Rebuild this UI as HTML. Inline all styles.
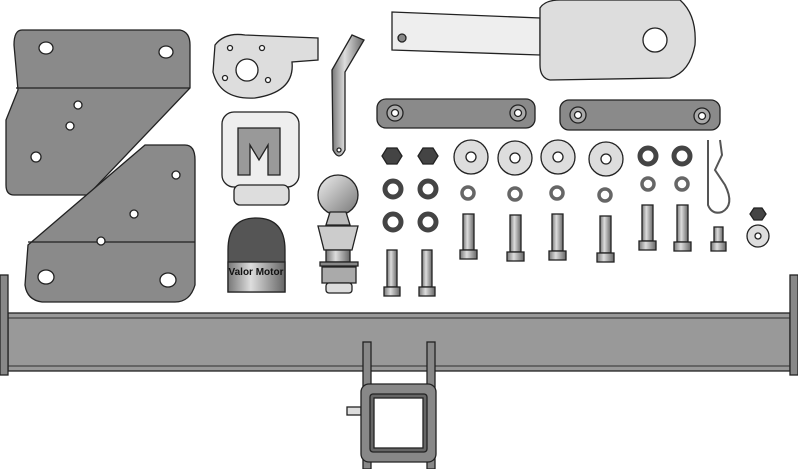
<!DOCTYPE html>
<html><head><style>html,body{margin:0;padding:0;background:#fff}svg{display:block}</style></head>
<body>
<svg width="798" height="469" viewBox="0 0 798 469" xmlns="http://www.w3.org/2000/svg" stroke="#222" stroke-width="1.3">
<defs>
<linearGradient id="cyl" x1="0" x2="1"><stop offset="0" stop-color="#777"/><stop offset="0.4" stop-color="#ddd"/><stop offset="1" stop-color="#666"/></linearGradient>
<linearGradient id="ball" x1="0" x2="1" y1="0" y2="1"><stop offset="0" stop-color="#eee"/><stop offset="1" stop-color="#777"/></linearGradient>
</defs>
<!-- upper bracket -->
<path d="M22,30 L180,30 Q190,32 190,45 L190,88 L88,195 L14,195 Q6,195 6,185 L6,120 L18,90 L14,45 Q14,30 22,30Z" fill="#8a8a8a"/>
<line x1="16" y1="88" x2="190" y2="88"/>
<g fill="#fff"><ellipse cx="46" cy="48" rx="7" ry="6"/><ellipse cx="166" cy="52" rx="7" ry="6"/><circle cx="78" cy="105" r="4"/><circle cx="70" cy="126" r="4"/><circle cx="36" cy="157" r="5"/></g>
<!-- lower bracket -->
<path d="M28,245 L145,145 L185,145 Q195,145 195,160 L195,285 Q190,302 175,302 L42,302 Q27,300 25,285 Z" fill="#8a8a8a"/>
<line x1="28" y1="242" x2="195" y2="242"/>
<g fill="#fff"><circle cx="176" cy="175" r="4"/><circle cx="134" cy="214" r="4"/><circle cx="101" cy="241" r="4"/><ellipse cx="46" cy="277" rx="8" ry="7"/><ellipse cx="168" cy="280" rx="8" ry="7"/></g>
<!-- small plate -->
<path d="M215,45 Q225,32 245,35 L318,38 L318,60 L292,62 Q295,92 255,98 Q220,100 213,72 Z" fill="#ddd"/>
<circle cx="247" cy="70" r="11" fill="#fff"/><g fill="#fff"><circle cx="230" cy="48" r="2.5"/><circle cx="262" cy="48" r="2.5"/><circle cx="225" cy="78" r="2.5"/><circle cx="268" cy="80" r="2.5"/></g>
<!-- pin -->
<path d="M332,70 L352,35 L364,40 L345,72 L345,150 Q339,162 333,150Z" fill="url(#cyl)"/><circle cx="339" cy="150" r="2" fill="#fff"/>
<!-- M plate -->
<rect x="222" y="112" width="77" height="75" rx="12" fill="#eee"/>
<path d="M238,128 L280,128 L280,175 L268,175 L268,145 L259,160 L250,145 L250,175 L238,175Z" fill="#999"/>
<rect x="234" y="185" width="55" height="20" rx="6" fill="#ddd"/>
<!-- cover -->
<path d="M228,250 Q228,218 256,218 Q285,218 285,250 L285,292 L228,292Z" fill="#555"/>
<rect x="228" y="262" width="57" height="30" fill="url(#cyl)"/>
<text x="256" y="275" font-family="Liberation Sans,sans-serif" font-weight="bold" font-size="10" text-anchor="middle" fill="#111" stroke="none">Valor Motor</text>
<!-- tow ball -->
<circle cx="338" cy="195" r="20" fill="url(#ball)"/>
<path d="M330,212 L346,212 L350,225 L326,225Z" fill="#bbb"/>
<path d="M318,226 L358,226 L352,250 L324,250Z" fill="#ccc"/>
<rect x="326" y="250" width="24" height="12" fill="url(#cyl)"/>
<rect x="320" y="262" width="38" height="4" fill="#888"/>
<rect x="322" y="267" width="34" height="16" fill="#aaa"/>
<rect x="326" y="283" width="26" height="10" rx="3" fill="#ddd"/>
<!-- top bar -->
<path d="M392,12 L540,18 L540,55 L392,50Z" fill="#eee"/>
<circle cx="402" cy="38" r="4" fill="#888"/>
<path d="M540,8 Q545,0 560,0 L680,0 Q697,15 695,45 Q690,72 670,78 L550,80 Q540,78 540,65Z" fill="#ddd"/>
<circle cx="655" cy="40" r="12" fill="#fff"/>
<!-- flat bars -->
<rect x="377" y="99" width="158" height="29" rx="9" fill="#8a8a8a"/>
<rect x="560" y="100" width="160" height="30" rx="9" fill="#8a8a8a"/>
<g fill="#aaa"><circle cx="395" cy="113" r="8"/><circle cx="518" cy="113" r="8"/><circle cx="578" cy="115" r="8"/><circle cx="702" cy="116" r="8"/></g>
<g fill="#fff"><circle cx="395" cy="113" r="3.5"/><circle cx="518" cy="113" r="3.5"/><circle cx="578" cy="115" r="3.5"/><circle cx="702" cy="116" r="3.5"/></g>
<!-- nuts -->
<g fill="#444"><polygon points="387,148 397,148 402,156 397,164 387,164 382,156"/><polygon points="423,148 433,148 438,156 433,164 423,164 418,156"/><polygon points="754,208 762,208 766,214 762,220 754,220 750,214"/></g>
<!-- big washers -->
<g fill="#ddd"><circle cx="471" cy="157" r="17"/><circle cx="515" cy="158" r="17"/><circle cx="558" cy="157" r="17"/><circle cx="606" cy="159" r="17"/><circle cx="758" cy="236" r="11"/></g>
<g fill="#fff"><circle cx="471" cy="157" r="5"/><circle cx="515" cy="158" r="5"/><circle cx="558" cy="157" r="5"/><circle cx="606" cy="159" r="5"/><circle cx="758" cy="236" r="3"/></g>
<!-- grey washers -->
<g fill="none" stroke="#444" stroke-width="5"><circle cx="393" cy="189" r="8"/><circle cx="428" cy="189" r="8"/><circle cx="393" cy="222" r="8"/><circle cx="428" cy="222" r="8"/><circle cx="648" cy="156" r="8"/><circle cx="682" cy="156" r="8"/></g>
<g fill="none" stroke="#666" stroke-width="3.5"><circle cx="468" cy="193" r="6"/><circle cx="515" cy="194" r="6"/><circle cx="557" cy="193" r="6"/><circle cx="605" cy="195" r="6"/><circle cx="648" cy="184" r="6"/><circle cx="682" cy="184" r="6"/></g>
<!-- bolts -->
<g fill="url(#cyl)">
<rect x="387" y="250" width="10" height="37"/><rect x="384" y="287" width="16" height="9"/>
<rect x="422" y="250" width="10" height="37"/><rect x="419" y="287" width="16" height="9"/>
<rect x="463" y="214" width="11" height="36"/><rect x="460" y="250" width="17" height="9"/>
<rect x="510" y="215" width="11" height="37"/><rect x="507" y="252" width="17" height="9"/>
<rect x="552" y="214" width="11" height="37"/><rect x="549" y="251" width="17" height="9"/>
<rect x="600" y="216" width="11" height="37"/><rect x="597" y="253" width="17" height="9"/>
<rect x="642" y="205" width="11" height="36"/><rect x="639" y="241" width="17" height="9"/>
<rect x="677" y="205" width="11" height="37"/><rect x="674" y="242" width="17" height="9"/>
<rect x="714" y="227" width="9" height="15"/><rect x="711" y="242" width="15" height="9"/>
</g>
<!-- R clip -->
<path d="M708,140 L708,205 Q712,215 722,212 Q735,205 725,185 L715,170 L722,155 L720,140" fill="none" stroke="#555" stroke-width="2"/>
<!-- beam -->
<rect x="8" y="313" width="782" height="58" fill="#999"/>
<line x1="8" y1="318" x2="790" y2="318" stroke="#444"/><line x1="8" y1="366" x2="790" y2="366" stroke="#444"/>
<rect x="0" y="275" width="8" height="100" fill="#888"/><rect x="790" y="275" width="8" height="100" fill="#888"/>
<!-- receiver -->
<rect x="363" y="342" width="8" height="127" fill="#888"/><rect x="427" y="342" width="8" height="127" fill="#888"/>
<rect x="347" y="407" width="14" height="8" fill="#ddd"/>
<rect x="361" y="384" width="75" height="78" rx="8" fill="#888"/>
<rect x="370" y="394" width="57" height="58" rx="3" fill="#666"/>
<rect x="374" y="398" width="49" height="50" fill="#fff"/>
</svg>
</body></html>
